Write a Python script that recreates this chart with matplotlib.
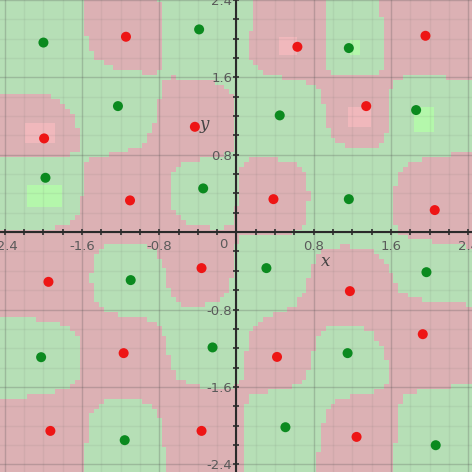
import matplotlib
matplotlib.use("Agg")
import matplotlib.pyplot as plt
from matplotlib.colors import ListedColormap
from matplotlib.patches import Rectangle
import numpy as np

plt.rcParams["axes.unicode_minus"] = False

# training points (label 1 = green, 0 = red)
pts_x = [-2.00, -1.145, -0.387, 0.631, 1.164, 1.958,
         -1.993, -1.228, -0.431, 0.448, 1.344, 1.861,
         -1.979, -1.103, -0.345, 0.383, 1.164, 2.054,
         -1.948, -1.096, -0.362, 0.310, 1.175, 1.968,
         -2.024, -1.169, -0.248, 0.420, 1.151, 1.930,
         -1.928, -1.158, -0.362, 0.507, 1.244, 2.064]
pts_y = [1.96, 2.02, 2.096, 1.916, 1.903, 2.030,
         0.969, 1.303, 1.089, 1.207, 1.303, 1.262,
         0.562, 0.328, 0.452, 0.341, 0.341, 0.228,
         -0.514, -0.496, -0.372, -0.372, -0.610, -0.414,
         -1.293, -1.251, -1.192, -1.290, -1.251, -1.055,
         -2.055, -2.151, -2.055, -2.017, -2.117, -2.203]
pts_label = [1, 0, 1, 0, 1, 0,
             0, 1, 0, 1, 0, 1,
             1, 0, 1, 0, 1, 0,
             0, 1, 0, 1, 0, 1,
             1, 0, 1, 0, 1, 0,
             0, 1, 0, 1, 0, 1]

# brighter patches in the background (x0, x1, y0, y1, label)
patch_x0 = [-2.19, -2.17, 1.84, 1.16, 0.44, 1.18]
patch_x1 = [-1.88, -1.81, 2.05, 1.39, 0.63, 1.28]
patch_y0 = [0.92, 0.26, 1.04, 1.09, 1.83, 1.83]
patch_y1 = [1.13, 0.49, 1.29, 1.29, 2.02, 1.99]
patch_label = [0, 1, 1, 0, 0, 1]

major_ticks = [-2.4, -1.6, -0.8, 0.8, 1.6, 2.4]

red_bg = "#dcb1b4"
green_bg = "#b6dfb6"
red_light = "#f0b8bc"
green_light = "#b4f7ab"
red_dot = "#ee1515"
green_dot = "#0b8a1f"

px = np.array(pts_x)
py = np.array(pts_y)
lab = np.array(pts_label)

# decision map from a gaussian kernel vote on the points
step = 0.05
gx = np.arange(-2.5, 2.5 + step, step)
gy = np.arange(-2.5, 2.5 + step, step)
GX, GY = np.meshgrid(gx, gy)
sign = np.where(lab == 1, 1.0, -1.0)
d2 = (GX[..., None] - px) ** 2 + (GY[..., None] - py) ** 2
score = (np.exp(-d2 / (2 * 0.35 ** 2)) * sign).sum(axis=-1)
cls = (score > 0).astype(int)

fig = plt.figure(figsize=(4.72, 4.72), dpi=100)
ax = fig.add_axes([0, 0, 1, 1])

ax.imshow(cls, extent=(gx[0] - step / 2, gx[-1] + step / 2, gy[0] - step / 2, gy[-1] + step / 2),
          origin="lower", cmap=ListedColormap([red_bg, green_bg]), interpolation="nearest",
          zorder=0, aspect="auto")

for x0, x1, y0, y1, l in zip(patch_x0, patch_x1, patch_y0, patch_y1, patch_label):
    ax.add_patch(Rectangle((x0, y0), x1 - x0, y1 - y0, facecolor=green_light if l else red_light,
                           edgecolor="none", zorder=1))

# grid
for v in np.arange(-2.4, 2.41, 0.2):
    is_major = abs(round(v / 0.8) * 0.8 - v) < 1e-6
    c = (0.3, 0.3, 0.3, 0.25) if is_major else (0.4, 0.4, 0.4, 0.09)
    ax.axvline(v, color=c, lw=1.0, zorder=2)
    ax.axhline(v, color=c, lw=1.0, zorder=2)

ax.set_xlim(-2.45, 2.44)
ax.set_ylim(-2.48, 2.40)

for s in ["top", "right"]:
    ax.spines[s].set_visible(False)
for s in ["left", "bottom"]:
    ax.spines[s].set_position("zero")
    ax.spines[s].set_color("#2a2a2a")
    ax.spines[s].set_linewidth(1.5)
    ax.spines[s].set_zorder(3)

ax.set_xticks(major_ticks)
ax.set_yticks(major_ticks)
ax.set_xticklabels([f"{t:g}" for t in major_ticks])
ax.set_yticklabels([f"{t:g}" for t in major_ticks])
ax.set_xticks(np.arange(-2.4, 2.41, 0.2), minor=True)
ax.set_yticks(np.arange(-2.4, 2.41, 0.2), minor=True)
ax.tick_params(which="both", direction="inout", length=4, width=1.2, color="#2a2a2a",
               labelsize=9.5, labelcolor="#5a5a5a")
ax.tick_params(axis="x", which="major", pad=4)
ax.tick_params(axis="y", which="major", pad=1)
ax.text(-0.14, -0.13, "0", ha="center", va="center", fontsize=9.5, color="#5a5a5a", zorder=4)

ax.text(0.92, -0.30, "x", ha="center", va="center", fontsize=12, style="italic",
        family="DejaVu Serif", color="#444444", zorder=4)
ax.text(-0.33, 1.11, "y", ha="center", va="center", fontsize=12, style="italic",
        family="DejaVu Serif", color="#444444", zorder=4)

ax.scatter(px, py, s=52, c=[green_dot if l else red_dot for l in lab], edgecolors="none", zorder=5)

fig.savefig("out.png", dpi=100)
